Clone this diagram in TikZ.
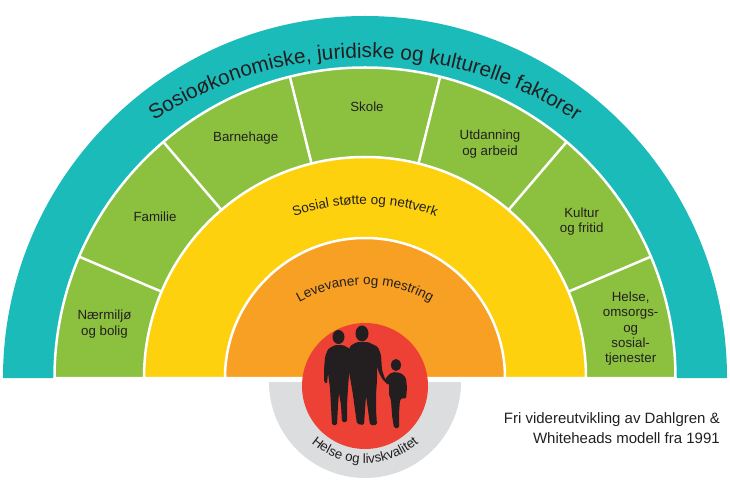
\documentclass[tikz,border=0pt]{standalone}
\usepackage{fontspec}
\setmainfont{Liberation Sans}
\usetikzlibrary{decorations.text}
\definecolor{teal1}{HTML}{1BBBB9}
\definecolor{green1}{HTML}{8CC13F}
\definecolor{yellow1}{HTML}{FED10F}
\definecolor{orange1}{HTML}{F7A023}
\definecolor{red1}{HTML}{EE4136}
\definecolor{grey1}{HTML}{DCDDDF}
\definecolor{ink}{HTML}{231F20}
\newcommand{\lblfont}{\fontsize{13.3}{15.3}\selectfont}
\begin{document}
\begin{tikzpicture}[x=1pt,y=1pt,
  ring/.style={draw=white, line width=2.5pt},
  divider/.style={draw=white, line width=2.5pt},
  lbl/.style={font=\lblfont, text=ink, align=center, inner sep=0pt},
  person/.style={fill=ink, rounded corners=1.5pt}]
\useasboundingbox (-365,-117) rectangle (365,378);
% rings
\fill[teal1] (362,0) arc[start angle=0,end angle=180,radius=362] -- cycle;
\filldraw[fill=green1, ring] (310.5,0) arc[start angle=0,end angle=180,radius=310.5] -- cycle;
\foreach \a in {23,49.5,76,104,130.5,157} \draw[divider] (\a:220) -- (\a:311);
\filldraw[fill=yellow1, ring] (221,0) arc[start angle=0,end angle=180,radius=221] -- cycle;
\filldraw[fill=orange1, ring] (140,0) arc[start angle=0,end angle=180,radius=140] -- cycle;
\fill[grey1] (-96,-4) arc[start angle=180,end angle=360,radius=96] -- cycle;
\fill[red1] (0,-8) circle[radius=63];
% people (pixel coordinates)
\begin{scope}[shift={(-365pt,378pt)}, x=1pt, y=-1pt]
  \fill[ink] (338.5,337) ellipse[x radius=6, y radius=7];
  \fill[person] (335,345) -- (328,349) -- (325,357) -- (324,370) -- (324,382) -- (327,384) -- (328,373) -- (330,388) -- (331,406) -- (332,425) -- (337,425) -- (338,405) -- (339,393) -- (341,405) -- (342,422) -- (347,422) -- (347,405) -- (348,388) -- (350,362) -- (352,350) -- (343,345) -- cycle;
  \fill[ink] (362,333.5) ellipse[x radius=6.5, y radius=8];
  \fill[person] (357,342) -- (350,346) -- (348,358) -- (349,372) -- (351,383) -- (353,395) -- (355,410) -- (357,424) -- (364,425) -- (365,410) -- (366,396) -- (368,410) -- (370,425) -- (377,425) -- (376,410) -- (376,395) -- (377,380) -- (377,366) -- (379,373) -- (383,380) -- (388,385) -- (392,384) -- (385,379) -- (382,370) -- (381,355) -- (378,347) -- (368,342) -- cycle;
  \fill[ink] (396,365) ellipse[x radius=5, y radius=6];
  \fill[person] (393,372) -- (388,375) -- (385,380) -- (387,383) -- (389,381) -- (389,395) -- (391,400) -- (392,415) -- (394,428) -- (399,428) -- (399,413) -- (400,400) -- (402,398) -- (404,398) -- (406,399) -- (407,388) -- (406,378) -- (401,373) -- cycle;
\end{scope}
% curved texts
\path[decorate, decoration={text along path, text align=center,
  text={|\fontsize{20.8}{24}\selectfont\color{ink}|Sosioøkonomiske, juridiske og kulturelle faktorer}}]
  (-333.4,127.5) arc[start angle=150,end angle=30,radius=385];
\path[decorate, decoration={text along path, text align=center,
  text={|\fontsize{13.5}{16}\selectfont\color{ink}|Sosial støtte og nettverk}}]
  (-180.1,70) arc[start angle=150,end angle=30,radius=208];
\path[decorate, decoration={text along path, text align=center,
  text={|\fontsize{13.5}{16}\selectfont\color{ink}|Levevaner og mestring}}]
  (-125,5.5) arc[start angle=160,end angle=20,radius=133];
\path[decorate, decoration={text along path, text align=center,
  text={|\fontsize{13.3}{16}\selectfont\color{ink}|Helse og livskvalitet}}]
  (-77.05,-31.05) arc[start angle=200,end angle=340,radius=82];
% segment labels
\node[lbl] (naer) at (-260.5,54) {Nærmiljø\\og bolig};
\node[lbl] (fam) at (-210,161) {Familie};
\node[lbl] (barn) at (-119.3,239.7) {Barnehage};
\node[lbl] (skole) at (2,271) {Skole};
\node[lbl] (utd) at (125,234) {Utdanning\\og arbeid};
\node[lbl] (kult) at (216.7,156.7) {Kultur\\og fritid};
\node[lbl] (helse) at (265.7,49.2) {Helse,\\omsorgs-\\og\\sosial-\\tjenester};
\node[anchor=east, align=right, font=\fontsize{15}{20}\selectfont, text=ink, inner sep=0pt] (cap) at (355,-50) {Fri videreutvikling av Dahlgren \&\\Whiteheads modell fra 1991};
\end{tikzpicture}
\end{document}
